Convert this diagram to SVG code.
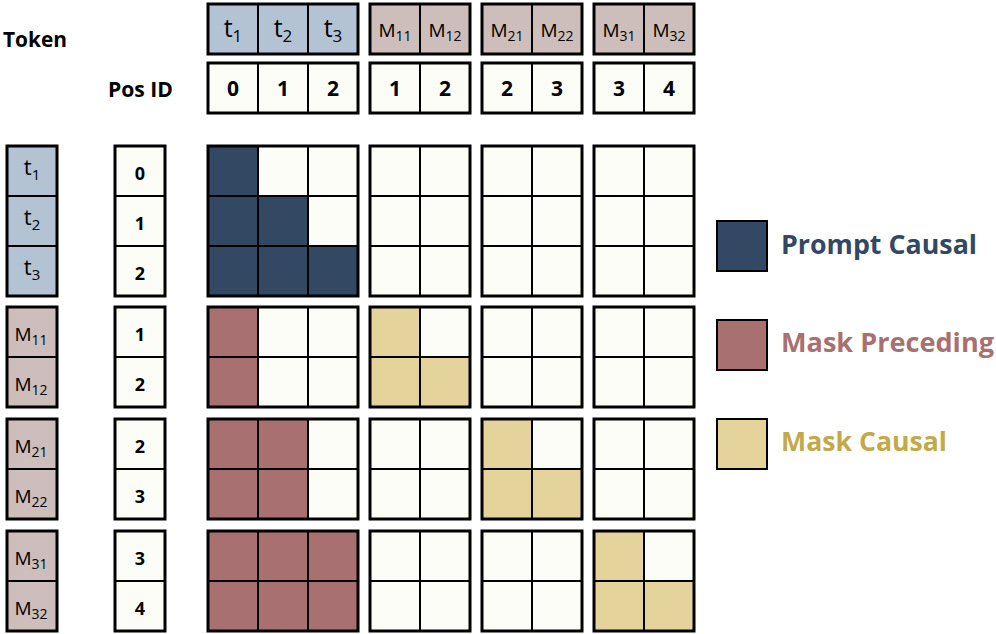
<svg xmlns="http://www.w3.org/2000/svg" width="996" height="634" viewBox="0 0 996 634">
<style>
rect{stroke:#000;stroke-width:2}
.w{fill:#FDFDF7}
.d{fill:#334863}
.r{fill:#A87070}
.y{fill:#E4D39A}
.tb{fill:#B4C3D3}
.mb{fill:#CDBEBB}
.o{fill:none;stroke-width:3}
text{font-family:"Open Sans",Lato,"DejaVu Sans",sans-serif;fill:#000}
.hd{font-weight:bold;font-size:22px}
.num{font-weight:bold;text-anchor:middle}
.lbl{text-anchor:middle}
.leg{font-weight:bold;font-size:27px}
</style>

<g id="header-labels">
<text class="hd" x="3" y="47" textLength="64" lengthAdjust="spacingAndGlyphs">Token</text>
<text class="hd" x="108" y="97" textLength="65" lengthAdjust="spacingAndGlyphs">Pos ID</text>
</g>

<g id="top-tokens">
<rect class="tb" x="208" y="4" width="50" height="50"/>
<rect class="tb" x="258" y="4" width="50" height="50"/>
<rect class="tb" x="308" y="4" width="50" height="50"/>
<rect class="o" x="208" y="4" width="150" height="50"/>
<rect class="mb" x="370" y="4" width="50" height="50"/>
<rect class="mb" x="420" y="4" width="50" height="50"/>
<rect class="o" x="370" y="4" width="100" height="50"/>
<rect class="mb" x="482" y="4" width="50" height="50"/>
<rect class="mb" x="532" y="4" width="50" height="50"/>
<rect class="o" x="482" y="4" width="100" height="50"/>
<rect class="mb" x="594" y="4" width="50" height="50"/>
<rect class="mb" x="644" y="4" width="50" height="50"/>
<rect class="o" x="594" y="4" width="100" height="50"/>
<text class="lbl" x="233" y="37" font-size="25">t<tspan font-size="17" dy="5">1</tspan></text>
<text class="lbl" x="283" y="37" font-size="25">t<tspan font-size="17" dy="5">2</tspan></text>
<text class="lbl" x="333" y="37" font-size="25">t<tspan font-size="17" dy="5">3</tspan></text>
<text class="lbl" x="395" y="37" font-size="19">M<tspan font-size="14" dy="4">11</tspan></text>
<text class="lbl" x="445" y="37" font-size="19">M<tspan font-size="14" dy="4">12</tspan></text>
<text class="lbl" x="507" y="37" font-size="19">M<tspan font-size="14" dy="4">21</tspan></text>
<text class="lbl" x="557" y="37" font-size="19">M<tspan font-size="14" dy="4">22</tspan></text>
<text class="lbl" x="619" y="37" font-size="19">M<tspan font-size="14" dy="4">31</tspan></text>
<text class="lbl" x="669" y="37" font-size="19">M<tspan font-size="14" dy="4">32</tspan></text>
</g>

<g id="top-pos">
<rect class="w" x="208" y="63" width="50" height="50"/>
<rect class="w" x="258" y="63" width="50" height="50"/>
<rect class="w" x="308" y="63" width="50" height="50"/>
<rect class="o" x="208" y="63" width="150" height="50"/>
<rect class="w" x="370" y="63" width="50" height="50"/>
<rect class="w" x="420" y="63" width="50" height="50"/>
<rect class="o" x="370" y="63" width="100" height="50"/>
<rect class="w" x="482" y="63" width="50" height="50"/>
<rect class="w" x="532" y="63" width="50" height="50"/>
<rect class="o" x="482" y="63" width="100" height="50"/>
<rect class="w" x="594" y="63" width="50" height="50"/>
<rect class="w" x="644" y="63" width="50" height="50"/>
<rect class="o" x="594" y="63" width="100" height="50"/>
<g font-size="21">
<text class="num" x="233" y="96">0</text>
<text class="num" x="283" y="96">1</text>
<text class="num" x="333" y="96">2</text>
<text class="num" x="395" y="96">1</text>
<text class="num" x="445" y="96">2</text>
<text class="num" x="507" y="96">2</text>
<text class="num" x="557" y="96">3</text>
<text class="num" x="619" y="96">3</text>
<text class="num" x="669" y="96">4</text>
</g>
</g>

<g id="left-tokens">
<rect class="tb" x="7" y="146" width="50" height="50"/>
<rect class="tb" x="7" y="196" width="50" height="50"/>
<rect class="tb" x="7" y="246" width="50" height="50"/>
<rect class="o" x="7" y="146" width="50" height="150"/>
<rect class="mb" x="7" y="307" width="50" height="50"/>
<rect class="mb" x="7" y="357" width="50" height="50"/>
<rect class="o" x="7" y="307" width="50" height="100"/>
<rect class="mb" x="7" y="419" width="50" height="50"/>
<rect class="mb" x="7" y="469" width="50" height="50"/>
<rect class="o" x="7" y="419" width="50" height="100"/>
<rect class="mb" x="7" y="531" width="50" height="50"/>
<rect class="mb" x="7" y="581" width="50" height="50"/>
<rect class="o" x="7" y="531" width="50" height="100"/>
<text class="lbl" x="32" y="175" font-size="22">t<tspan font-size="15" dy="5">1</tspan></text>
<text class="lbl" x="32" y="225" font-size="22">t<tspan font-size="15" dy="5">2</tspan></text>
<text class="lbl" x="32" y="275" font-size="22">t<tspan font-size="15" dy="5">3</tspan></text>
<text class="lbl" x="31" y="341" font-size="19">M<tspan font-size="14" dy="4">11</tspan></text>
<text class="lbl" x="31" y="391" font-size="19">M<tspan font-size="14" dy="4">12</tspan></text>
<text class="lbl" x="31" y="453" font-size="19">M<tspan font-size="14" dy="4">21</tspan></text>
<text class="lbl" x="31" y="503" font-size="19">M<tspan font-size="14" dy="4">22</tspan></text>
<text class="lbl" x="31" y="565" font-size="19">M<tspan font-size="14" dy="4">31</tspan></text>
<text class="lbl" x="31" y="615" font-size="19">M<tspan font-size="14" dy="4">32</tspan></text>
</g>

<g id="left-pos">
<rect class="w" x="115" y="146" width="50" height="50"/>
<rect class="w" x="115" y="196" width="50" height="50"/>
<rect class="w" x="115" y="246" width="50" height="50"/>
<rect class="o" x="115" y="146" width="50" height="150"/>
<rect class="w" x="115" y="307" width="50" height="50"/>
<rect class="w" x="115" y="357" width="50" height="50"/>
<rect class="o" x="115" y="307" width="50" height="100"/>
<rect class="w" x="115" y="419" width="50" height="50"/>
<rect class="w" x="115" y="469" width="50" height="50"/>
<rect class="o" x="115" y="419" width="50" height="100"/>
<rect class="w" x="115" y="531" width="50" height="50"/>
<rect class="w" x="115" y="581" width="50" height="50"/>
<rect class="o" x="115" y="531" width="50" height="100"/>
<g font-size="18">
<text class="num" x="140" y="180">0</text>
<text class="num" x="140" y="230">1</text>
<text class="num" x="140" y="280">2</text>
<text class="num" x="140" y="341">1</text>
<text class="num" x="140" y="391">2</text>
<text class="num" x="140" y="453">2</text>
<text class="num" x="140" y="503">3</text>
<text class="num" x="140" y="565">3</text>
<text class="num" x="140" y="615">4</text>
</g>
</g>

<g id="mask-row-prompt">
<rect class="d" x="208" y="146" width="50" height="50"/>
<rect class="w" x="258" y="146" width="50" height="50"/>
<rect class="w" x="308" y="146" width="50" height="50"/>
<rect class="d" x="208" y="196" width="50" height="50"/>
<rect class="d" x="258" y="196" width="50" height="50"/>
<rect class="w" x="308" y="196" width="50" height="50"/>
<rect class="d" x="208" y="246" width="50" height="50"/>
<rect class="d" x="258" y="246" width="50" height="50"/>
<rect class="d" x="308" y="246" width="50" height="50"/>
<rect class="o" x="208" y="146" width="150" height="150"/>
<rect class="w" x="370" y="146" width="50" height="50"/><rect class="w" x="420" y="146" width="50" height="50"/>
<rect class="w" x="370" y="196" width="50" height="50"/><rect class="w" x="420" y="196" width="50" height="50"/>
<rect class="w" x="370" y="246" width="50" height="50"/><rect class="w" x="420" y="246" width="50" height="50"/>
<rect class="o" x="370" y="146" width="100" height="150"/>
<rect class="w" x="482" y="146" width="50" height="50"/><rect class="w" x="532" y="146" width="50" height="50"/>
<rect class="w" x="482" y="196" width="50" height="50"/><rect class="w" x="532" y="196" width="50" height="50"/>
<rect class="w" x="482" y="246" width="50" height="50"/><rect class="w" x="532" y="246" width="50" height="50"/>
<rect class="o" x="482" y="146" width="100" height="150"/>
<rect class="w" x="594" y="146" width="50" height="50"/><rect class="w" x="644" y="146" width="50" height="50"/>
<rect class="w" x="594" y="196" width="50" height="50"/><rect class="w" x="644" y="196" width="50" height="50"/>
<rect class="w" x="594" y="246" width="50" height="50"/><rect class="w" x="644" y="246" width="50" height="50"/>
<rect class="o" x="594" y="146" width="100" height="150"/>
</g>

<g id="mask-row-m1">
<rect class="r" x="208" y="307" width="50" height="50"/><rect class="w" x="258" y="307" width="50" height="50"/><rect class="w" x="308" y="307" width="50" height="50"/>
<rect class="r" x="208" y="357" width="50" height="50"/><rect class="w" x="258" y="357" width="50" height="50"/><rect class="w" x="308" y="357" width="50" height="50"/>
<rect class="o" x="208" y="307" width="150" height="100"/>
<rect class="y" x="370" y="307" width="50" height="50"/><rect class="w" x="420" y="307" width="50" height="50"/>
<rect class="y" x="370" y="357" width="50" height="50"/><rect class="y" x="420" y="357" width="50" height="50"/>
<rect class="o" x="370" y="307" width="100" height="100"/>
<rect class="w" x="482" y="307" width="50" height="50"/><rect class="w" x="532" y="307" width="50" height="50"/>
<rect class="w" x="482" y="357" width="50" height="50"/><rect class="w" x="532" y="357" width="50" height="50"/>
<rect class="o" x="482" y="307" width="100" height="100"/>
<rect class="w" x="594" y="307" width="50" height="50"/><rect class="w" x="644" y="307" width="50" height="50"/>
<rect class="w" x="594" y="357" width="50" height="50"/><rect class="w" x="644" y="357" width="50" height="50"/>
<rect class="o" x="594" y="307" width="100" height="100"/>
</g>

<g id="mask-row-m2">
<rect class="r" x="208" y="419" width="50" height="50"/><rect class="r" x="258" y="419" width="50" height="50"/><rect class="w" x="308" y="419" width="50" height="50"/>
<rect class="r" x="208" y="469" width="50" height="50"/><rect class="r" x="258" y="469" width="50" height="50"/><rect class="w" x="308" y="469" width="50" height="50"/>
<rect class="o" x="208" y="419" width="150" height="100"/>
<rect class="w" x="370" y="419" width="50" height="50"/><rect class="w" x="420" y="419" width="50" height="50"/>
<rect class="w" x="370" y="469" width="50" height="50"/><rect class="w" x="420" y="469" width="50" height="50"/>
<rect class="o" x="370" y="419" width="100" height="100"/>
<rect class="y" x="482" y="419" width="50" height="50"/><rect class="w" x="532" y="419" width="50" height="50"/>
<rect class="y" x="482" y="469" width="50" height="50"/><rect class="y" x="532" y="469" width="50" height="50"/>
<rect class="o" x="482" y="419" width="100" height="100"/>
<rect class="w" x="594" y="419" width="50" height="50"/><rect class="w" x="644" y="419" width="50" height="50"/>
<rect class="w" x="594" y="469" width="50" height="50"/><rect class="w" x="644" y="469" width="50" height="50"/>
<rect class="o" x="594" y="419" width="100" height="100"/>
</g>

<g id="mask-row-m3">
<rect class="r" x="208" y="531" width="50" height="50"/><rect class="r" x="258" y="531" width="50" height="50"/><rect class="r" x="308" y="531" width="50" height="50"/>
<rect class="r" x="208" y="581" width="50" height="50"/><rect class="r" x="258" y="581" width="50" height="50"/><rect class="r" x="308" y="581" width="50" height="50"/>
<rect class="o" x="208" y="531" width="150" height="100"/>
<rect class="w" x="370" y="531" width="50" height="50"/><rect class="w" x="420" y="531" width="50" height="50"/>
<rect class="w" x="370" y="581" width="50" height="50"/><rect class="w" x="420" y="581" width="50" height="50"/>
<rect class="o" x="370" y="531" width="100" height="100"/>
<rect class="w" x="482" y="531" width="50" height="50"/><rect class="w" x="532" y="531" width="50" height="50"/>
<rect class="w" x="482" y="581" width="50" height="50"/><rect class="w" x="532" y="581" width="50" height="50"/>
<rect class="o" x="482" y="531" width="100" height="100"/>
<rect class="y" x="594" y="531" width="50" height="50"/><rect class="w" x="644" y="531" width="50" height="50"/>
<rect class="y" x="594" y="581" width="50" height="50"/><rect class="y" x="644" y="581" width="50" height="50"/>
<rect class="o" x="594" y="531" width="100" height="100"/>
</g>

<g id="legend-prompt-causal">
<rect class="d" x="717" y="221" width="50" height="50" stroke-width="2.5"/>
<text class="leg" x="781" y="254" style="fill:#334863" textLength="196" lengthAdjust="spacingAndGlyphs">Prompt Causal</text>
</g>
<g id="legend-mask-preceding">
<rect class="r" x="717" y="320" width="50" height="50" stroke-width="2.5"/>
<text class="leg" x="781" y="352" style="fill:#A87070" textLength="213" lengthAdjust="spacingAndGlyphs">Mask Preceding</text>
</g>
<g id="legend-mask-causal">
<rect class="y" x="717" y="419" width="50" height="50" stroke-width="2.5"/>
<text class="leg" x="781" y="451" style="fill:#C4A94A" textLength="166" lengthAdjust="spacingAndGlyphs">Mask Causal</text>
</g>
</svg>
